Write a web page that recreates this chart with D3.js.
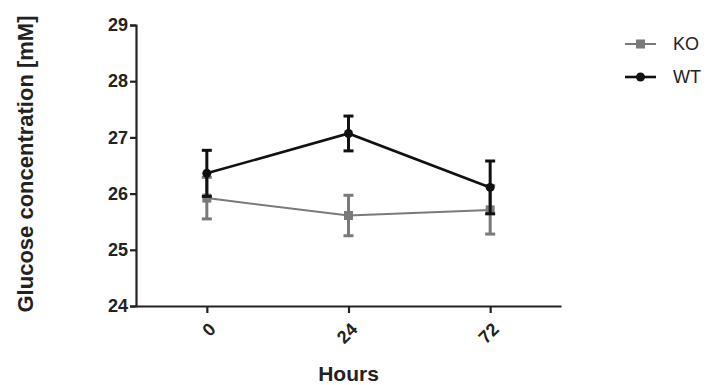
<!DOCTYPE html>
<html>
<head>
<meta charset="utf-8">
<script src="https://cdn.jsdelivr.net/npm/d3@7"></script>
<style>
  html, body { margin: 0; padding: 0; background: #fff; }
  svg { display: block; }
  text { font-family: "Liberation Sans", Arial, sans-serif; font-weight: bold; fill: #222; }
</style>
</head>
<body>
<svg id="chart" width="709" height="385"></svg>
<script>
// Time points (hours)
const hours = ["0", "24", "72"];
// Mean glucose concentration (mM) and error (SEM)
const koMean = [25.92, 25.61, 25.71];
const koErr  = [0.37, 0.36, 0.43];
const wtMean = [26.36, 27.07, 26.11];
const wtErr  = [0.41, 0.31, 0.47];
const yTicks = [24, 25, 26, 27, 28, 29];

const series = [
  { name: "KO", mean: koMean, err: koErr, color: "#7a7a7a", width: 2, shape: "square" },
  { name: "WT", mean: wtMean, err: wtErr, color: "#111111", width: 2.6, shape: "circle" }
];

const svg = d3.select("#chart");
const plotLeft = 136, plotRight = 561, plotTop = 25, plotBottom = 306;

const x = d3.scalePoint().domain(hours).range([plotLeft, plotRight]).padding(0.5);
const y = d3.scaleLinear().domain([24, 29]).range([plotBottom, plotTop]);

// Y axis
const yAxis = svg.append("g")
  .attr("transform", `translate(${plotLeft},0)`)
  .call(d3.axisLeft(y).tickValues(yTicks).tickSize(6).tickPadding(2).tickFormat(d3.format("d")));
yAxis.select(".domain").attr("stroke", "#222").attr("stroke-width", 2.2);
yAxis.selectAll(".tick line").attr("stroke", "#222").attr("stroke-width", 2.2);
yAxis.selectAll(".tick text").attr("font-size", 18).style("fill", "#222");

// X axis
const xAxis = svg.append("g")
  .attr("transform", `translate(0,${plotBottom})`)
  .call(d3.axisBottom(x).tickSize(7).tickSizeOuter(0));
xAxis.select(".domain").attr("stroke", "#222").attr("stroke-width", 2.2);
xAxis.selectAll(".tick line").attr("stroke", "#222").attr("stroke-width", 2.2);
xAxis.selectAll(".tick text")
  .attr("font-size", 18).style("fill", "#222")
  .attr("text-anchor", "end")
  .attr("y", 0).attr("dy", "0.35em")
  .attr("transform", "translate(5,20) rotate(-45)");

// Axis titles
svg.append("text")
  .attr("transform", `translate(33,164) rotate(-90)`)
  .attr("text-anchor", "middle")
  .attr("font-size", 22)
  .text("Glucose concentration [mM]");

svg.append("text")
  .attr("x", x("24"))
  .attr("y", 381)
  .attr("text-anchor", "middle")
  .attr("font-size", 21)
  .text("Hours");

const line = d3.line().x((d, i) => x(hours[i])).y(d => y(d));

series.forEach(s => {
  const g = svg.append("g");
  g.append("path")
    .datum(s.mean)
    .attr("fill", "none")
    .attr("stroke", s.color)
    .attr("stroke-width", s.width)
    .attr("d", line);

  s.mean.forEach((m, i) => {
    const cx = x(hours[i]);
    const e = s.err[i];
    g.append("line")
      .attr("x1", cx).attr("x2", cx)
      .attr("y1", y(m - e)).attr("y2", y(m + e))
      .attr("stroke", s.color).attr("stroke-width", 3);
    [m - e, m + e].forEach(v => {
      g.append("line")
        .attr("x1", cx - 5).attr("x2", cx + 5)
        .attr("y1", y(v)).attr("y2", y(v))
        .attr("stroke", s.color).attr("stroke-width", 3);
    });
    if (s.shape === "square") {
      g.append("rect")
        .attr("x", cx - 4.5).attr("y", y(m) - 4.5)
        .attr("width", 9).attr("height", 9)
        .attr("fill", s.color);
    } else {
      g.append("circle")
        .attr("cx", cx).attr("cy", y(m)).attr("r", 4.5)
        .attr("fill", s.color);
    }
  });
});

// Legend
const legend = svg.append("g");
series.forEach((s, i) => {
  const ly = 44 + i * 33;
  legend.append("line")
    .attr("x1", 625).attr("x2", 656).attr("y1", ly).attr("y2", ly)
    .attr("stroke", s.color).attr("stroke-width", s.width);
  if (s.shape === "square") {
    legend.append("rect").attr("x", 636).attr("y", ly - 4.5).attr("width", 9).attr("height", 9).attr("fill", s.color);
  } else {
    legend.append("circle").attr("cx", 640.5).attr("cy", ly).attr("r", 4.5).attr("fill", s.color);
  }
  legend.append("text")
    .attr("x", 673).attr("y", ly).attr("dy", "0.36em")
    .attr("font-size", 18)
    .style("font-weight", "normal")
    .text(s.name);
});
</script>
</body>
</html>
